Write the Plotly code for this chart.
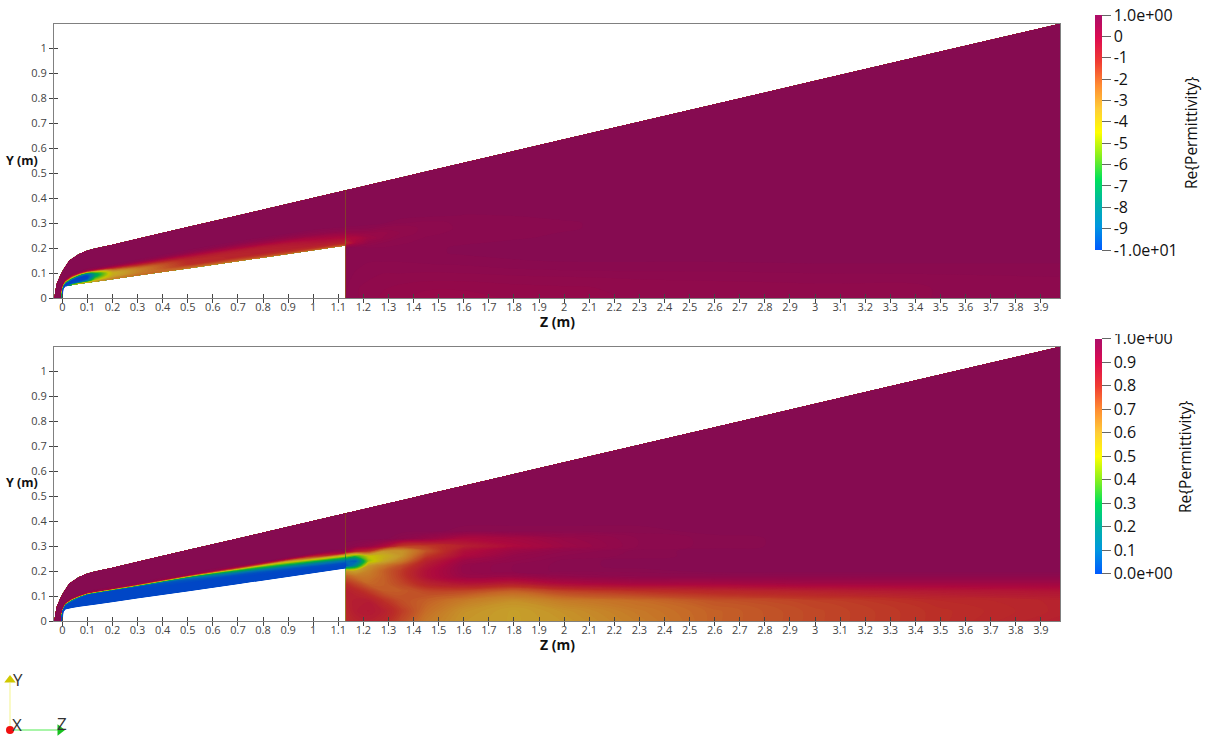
import plotly.graph_objects as go

# ---------- geometry (metres) ----------
body_z = [0.003, 0.003, 0.004, 0.006, 0.013, 0.04, 0.07, 0.10, 0.13, 0.20, 0.30, 0.50, 0.70, 0.90, 1.13, 1.135]
body_y = [0.0, 0.012, 0.025, 0.037, 0.046, 0.052, 0.0566, 0.061, 0.0652, 0.0753, 0.0897, 0.1185, 0.1473, 0.1761, 0.210, 0.2107]
shock_z = [-0.031, -0.029, -0.022, -0.009, 0.005, 0.028, 0.065, 0.10, 0.13, 0.20, 0.30, 0.50, 0.70, 0.90, 1.13, 1.135]
shock_y = [0.0, 0.02, 0.057, 0.088, 0.115, 0.15, 0.175, 0.19, 0.198, 0.2134, 0.2368, 0.2836, 0.3304, 0.3772, 0.431, 0.4322]
fore_frac = [0, .05, .1, .15, .2, .25, .3, .325, .35, .375, .4, .45, .5, .65, 1]

wake_z = [1.13, 1.17, 1.22, 1.28, 1.35, 1.45, 1.6, 1.8, 2.0, 2.3, 2.6, 3.0, 3.5, 3.976]
wake_top = [0.431, 0.4404, 0.4521, 0.4661, 0.4825, 0.5059, 0.541, 0.5878, 0.6346, 0.7048, 0.775, 0.8686, 0.9856, 1.097]
wake_levels = [0, .04, .08, .12, .15, .18, .20, .22, .24, .26, .28, .30, .33, .36, .40]

# ---------- Re{Permittivity}, top panel ----------
fore_top = [
    [-10, -10, -10, -10, -9, -6, -1.5, .3, .7, .9, 1, 1, 1, 1, 1],
    [-10, -10, -10, -10, -9, -6, -1.5, .3, .7, .9, 1, 1, 1, 1, 1],
    [-10, -10, -10, -10, -9, -6, -1.5, .3, .7, .9, 1, 1, 1, 1, 1],
    [-10, -10, -10, -10, -8, -5, -1.5, 0, .5, .8, 1, 1, 1, 1, 1],
    [-10, -10, -10, -10, -8, -5, -2, -1, 0, .5, .85, 1, 1, 1, 1],
    [-5, -9.5, -10, -10, -10, -8, -4, -2.5, -1, 0, .7, 1, 1, 1, 1],
    [-3, -9, -10, -10, -10, -9.5, -7, -4, -2, 0, .6, 1, 1, 1, 1],
    [-3.5, -8, -9.5, -10, -10, -9.5, -7.5, -5, -2, -.3, .6, 1, 1, 1, 1],
    [-3, -5, -6, -7, -7.5, -7, -5, -3, -1.3, .1, .7, 1, 1, 1, 1],
    [-2.6, -3.2, -3.6, -3.8, -3.7, -3, -1.8, -1, -.3, .3, .7, 1, 1, 1, 1],
    [-2.2, -2.6, -2.8, -2.8, -2.5, -1.8, -.8, -.3, .2, .5, .8, .97, 1, 1, 1],
    [-2.4, -1.8, -1.2, -1.1, -1, -.7, -.2, .1, .4, .6, .8, .96, 1, 1, 1],
    [-2.4, -1.5, -.9, -.9, -.8, -.5, .1, .3, .5, .7, .85, .97, 1, 1, 1],
    [-2.2, -1.2, -.8, -.7, -.5, -.1, .4, .55, .7, .85, .93, 1, 1, 1, 1],
    [-2.2, -.9, -.5, -.1, .3, .6, .85, .92, .97, 1, 1, 1, 1, 1, 1],
    [-2.2, -.9, -.5, -.1, .3, .6, .85, .92, .97, 1, 1, 1, 1, 1, 1],
]
wake_top_vals = [
    [.85, .85, .88, .9, .92, .95, .95, -1, -.2, .45, .9, 1, 1, 1, 1, 1],
    [.75, .75, .8, .85, .88, .9, .9, .1, -.1, .5, .9, 1, 1, 1, 1, 1],
    [.7, .7, .75, .8, .85, .88, .85, .6, .3, .5, .85, 1, 1, 1, 1, 1],
    [.6, .65, .7, .78, .85, .88, .85, .75, .55, .5, .7, .95, 1, 1, 1, 1],
    [.55, .6, .7, .78, .85, .9, .88, .82, .75, .65, .65, .85, 1, 1, 1, 1],
    [.5, .55, .68, .78, .88, .92, .92, .88, .85, .8, .78, .8, .97, 1, 1, 1],
    [.5, .55, .68, .8, .9, .95, .95, .93, .9, .88, .86, .86, .93, .99, 1, 1],
    [.55, .6, .7, .85, .93, .97, .97, .95, .93, .92, .9, .9, .94, .99, 1, 1],
    [.6, .62, .72, .87, .95, .98, .98, .97, .95, .94, .93, .93, .95, .99, 1, 1],
    [.65, .66, .75, .88, .95, .98, .99, .98, .97, .96, .96, .96, .97, .99, 1, 1],
    [.68, .68, .76, .88, .95, .98, .99, .99, .98, .98, .98, .98, .98, .99, 1, 1],
    [.7, .7, .78, .9, .96, .98, .99, .99, .99, .99, .99, .99, .99, .99, 1, 1],
    [.74, .74, .8, .9, .96, .98, .99, 1, 1, 1, 1, 1, 1, 1, 1, 1],
    [.78, .78, .83, .9, .96, .98, .99, 1, 1, 1, 1, 1, 1, 1, 1, 1],
]

# ---------- Re{Permittivity}, bottom panel ----------
fore_bot = [
    [0, 0, 0, 0, 0, .02, .5, .9, .97, 1, 1, 1, 1, 1, 1],
    [0, 0, 0, 0, 0, .02, .5, .9, .97, 1, 1, 1, 1, 1, 1],
    [0, 0, 0, 0, 0, .02, .5, .9, .97, 1, 1, 1, 1, 1, 1],
    [0, 0, 0, 0, .01, .1, .55, .85, .95, 1, 1, 1, 1, 1, 1],
    [0, 0, 0, 0, 0, .05, .3, .6, .85, .95, 1, 1, 1, 1, 1],
    [0, 0, 0, 0, 0, .01, .1, .3, .65, .9, .98, 1, 1, 1, 1],
    [0, 0, 0, 0, 0, 0, .01, .05, .3, .75, .97, 1, 1, 1, 1],
    [0, 0, 0, 0, 0, 0, 0, 0, .02, .4, .9, 1, 1, 1, 1],
    [0, 0, 0, 0, 0, 0, 0, 0, .03, .45, .92, 1, 1, 1, 1],
    [0, 0, 0, 0, 0, 0, 0, 0, .05, .55, .95, 1, 1, 1, 1],
    [0, 0, 0, 0, 0, 0, 0, .01, .2, .7, .97, 1, 1, 1, 1],
    [0, 0, 0, 0, 0, .02, .06, .14, .32, .72, .96, 1, 1, 1, 1],
    [0, 0, 0, 0, .02, .1, .3, .45, .72, .88, .98, 1, 1, 1, 1],
    [0, 0, 0, .02, .1, .3, .52, .65, .82, .96, 1, 1, 1, 1, 1],
    [0, 0, .02, .12, .33, .6, .95, .99, 1, 1, 1, 1, 1, 1, 1],
    [0, 0, .02, .12, .33, .6, .95, .99, 1, 1, 1, 1, 1, 1, 1],
]
wake_bot_vals = [
    [.81, .82, .83, .84, .8, .72, .62, .02, .08, .47, .95, .99, 1, 1, 1, 1],
    [.83, .85, .85, .82, .76, .68, .6, .2, .04, .35, .85, .98, 1, 1, 1, 1],
    [.84, .86, .85, .78, .71, .68, .66, .62, .45, .5, .8, .96, 1, 1, 1, 1],
    [.82, .84, .8, .73, .72, .72, .72, .68, .58, .56, .62, .9, 1, 1, 1, 1],
    [.76, .78, .75, .73, .76, .78, .78, .75, .67, .62, .62, .78, .98, 1, 1, 1],
    [.68, .7, .72, .76, .83, .88, .88, .86, .83, .78, .74, .78, .95, 1, 1, 1],
    [.62, .63, .67, .76, .87, .95, .96, .96, .94, .9, .88, .84, .9, .99, 1, 1],
    [.6, .6, .63, .72, .85, .95, .98, .98, .97, .96, .94, .9, .92, .99, 1, 1],
    [.62, .63, .67, .77, .9, .97, .99, .99, .99, .98, .97, .94, .95, .99, 1, 1],
    [.67, .68, .7, .8, .92, .98, .99, 1, 1, .99, .99, .98, .98, .99, 1, 1],
    [.72, .72, .74, .82, .92, .98, 1, 1, 1, 1, 1, .99, .99, 1, 1, 1],
    [.76, .76, .77, .84, .93, .98, 1, 1, 1, 1, 1, 1, 1, 1, 1, 1],
    [.8, .8, .81, .86, .93, .98, 1, 1, 1, 1, 1, 1, 1, 1, 1, 1],
    [.84, .83, .83, .87, .93, .98, 1, 1, 1, 1, 1, 1, 1, 1, 1, 1],
]

# ---------- labels and ticks ----------
z_ticks = [i / 10 for i in range(40)]
z_labels = ["0", "0.1", "0.2", "0.3", "0.4", "0.5", "0.6", "0.7", "0.8", "0.9",
            "1", "1.1", "1.2", "1.3", "1.4", "1.5", "1.6", "1.7", "1.8", "1.9",
            "2", "2.1", "2.2", "2.3", "2.4", "2.5", "2.6", "2.7", "2.8", "2.9",
            "3", "3.1", "3.2", "3.3", "3.4", "3.5", "3.6", "3.7", "3.8", "3.9"]
y_ticks = [i / 10 for i in range(11)]
y_labels = ["0", "0.1", "0.2", "0.3", "0.4", "0.5", "0.6", "0.7", "0.8", "0.9", "1"]
cb1_vals = [1, 0, -1, -2, -3, -4, -5, -6, -7, -8, -9, -10]
cb1_text = ["1.0e+00", "0", "-1", "-2", "-3", "-4", "-5", "-6", "-7", "-8", "-9", "-1.0e+01"]
cb2_vals = [1, .9, .8, .7, .6, .5, .4, .3, .2, .1, 0]
cb2_text = ["1.0e+00", "0.9", "0.8", "0.7", "0.6", "0.5", "0.4", "0.3", "0.2", "0.1", "0.0e+00"]

stops = [0, .1, .2, .3, .4, .5, .6, .7, .8, .9, .96, 1]
bar_rgb = [(0, 90, 255), (0, 150, 225), (0, 180, 165), (0, 225, 90), (135, 240, 30), (255, 255, 0),
           (255, 205, 55), (255, 140, 50), (240, 60, 50), (222, 12, 80), (190, 12, 95), (172, 15, 105)]
SHADE = 0.78

bright = [[s, "rgb(%d,%d,%d)" % c] for s, c in zip(stops, bar_rgb)]
shaded = [[s, "rgb(%d,%d,%d)" % tuple(int(v * SHADE) for v in c)] for s, c in zip(stops, bar_rgb)]

W, H = 1209, 738
PX0, PX1 = 54, 1060
P1T, P1B = 24, 298
P2T, P2B = 347, 621
XR = [-0.033, 3.976]
YR = [0, 1.096]
CLEAR = "rgba(0,0,0,0)"


def px(x):
    return x / W


def py(y):
    return 1 - y / H


fig = go.Figure()


def add_field(fore_vals, wake_vals, xa, ya, lo, hi, step, tag):
    xf = [[bz + f * (sz - bz) for bz, sz in zip(body_z, shock_z)] for f in fore_frac]
    yf = [[by + f * (sy - by) for by, sy in zip(body_y, shock_y)] for f in fore_frac]
    yw = [[lv for _ in wake_z] for lv in wake_levels] + [list(wake_top)]
    xw = [list(wake_z) for _ in yw]
    fz = [[row[j] for row in fore_vals] for j in range(len(fore_frac))]
    wz = [[row[j] for row in wake_vals] for j in range(len(yw))]
    for name, x, y, zv in ((tag + "f", xf, yf, fz), (tag + "w", xw, yw, wz)):
        a = list(range(len(x[0])))
        b = list(range(len(x)))
        noax = dict(showgrid=False, showticklabels="none", startline=False, endline=False,
                    smoothing=0, showline=False, minorgridcount=0, gridcolor=CLEAR, linecolor=CLEAR,
                    startlinecolor=CLEAR, endlinecolor=CLEAR, minorgridcolor=CLEAR)
        fig.add_trace(go.Carpet(carpet=name, a=a, b=b, x=x, y=y, xaxis=xa, yaxis=ya,
                                color=CLEAR, aaxis=noax, baxis=noax))
        fig.add_trace(go.Contourcarpet(carpet=name, a=a, b=b, z=zv, xaxis=xa, yaxis=ya,
                                       autocontour=False, showscale=False, zmin=lo, zmax=hi,
                                       colorscale=shaded, line=dict(width=0, color=CLEAR),
                                       contours=dict(start=lo - 0.63 * step, end=hi + step, size=step,
                                                     coloring="fill", showlines=False)))


add_field(fore_top, wake_top_vals, "x", "y", -10, 1, 0.1, "t")
add_field(fore_bot, wake_bot_vals, "x2", "y2", 0, 1, 0.008, "b")


def bar(vals, text, lo, hi, top):
    cb = dict(x=px(1095), xanchor="left", xpad=0, y=py(top), yanchor="top", ypad=0,
              len=235, lenmode="pixels", thickness=7, thicknessmode="pixels",
              outlinewidth=0, tickmode="array", tickvals=vals, ticktext=text,
              ticks="outside", ticklen=9, tickcolor="#666666", tickwidth=1,
              tickfont=dict(family="Open Sans", size=16, color="#111111"))
    fig.add_trace(go.Scatter(x=[-100, -100], y=[-100, -100], mode="markers", xaxis="x5", yaxis="y5",
                             marker=dict(color=[lo, hi], cmin=lo, cmax=hi, colorscale=bright,
                                         showscale=True, colorbar=cb),
                             showlegend=False, hoverinfo="skip"))


bar(cb1_vals, cb1_text, -10, 1, 15)
bar(cb2_vals, cb2_text, 0, 1, 338.5)

# twin axes: the second half of the crossing tick marks
for xa_name, ya_name in (("x3", "y"), ("x4", "y2"), ("x", "y3"), ("x2", "y4")):
    fig.add_trace(go.Scatter(x=[None], y=[None], mode="markers", xaxis=xa_name, yaxis=ya_name,
                             showlegend=False, hoverinfo="skip"))

widget_x = [10, 10]
widget_y = [730, 683]
widget_zx = [10, 58]
widget_zy = [730, 730]
fig.add_trace(go.Scatter(x=widget_x, y=widget_y, mode="lines", xaxis="x5", yaxis="y5",
                         line=dict(color="#f6f6a0", width=1.2), hoverinfo="skip", showlegend=False))
fig.add_trace(go.Scatter(x=widget_zx, y=widget_zy, mode="lines", xaxis="x5", yaxis="y5",
                         line=dict(color="#a8f5a8", width=2), hoverinfo="skip", showlegend=False))
fig.add_trace(go.Scatter(x=[10], y=[680], mode="markers", xaxis="x5", yaxis="y5",
                         marker=dict(symbol="triangle-up", size=10, color="#d0c800"),
                         hoverinfo="skip", showlegend=False))
fig.add_trace(go.Scatter(x=[60], y=[730], mode="markers", xaxis="x5", yaxis="y5",
                         marker=dict(symbol="triangle-right", size=10, color="#18c020"),
                         hoverinfo="skip", showlegend=False))
fig.add_trace(go.Scatter(x=[10], y=[730], mode="markers", xaxis="x5", yaxis="y5",
                         marker=dict(symbol="circle", size=8, color="#f01010"),
                         hoverinfo="skip", showlegend=False))

TICKFONT = dict(family="Open Sans", size=11, color="#444444")
AXLINE = "#808080"


def xaxis(anchor):
    return dict(domain=[px(PX0), px(PX1)], range=XR, anchor=anchor, tickmode="array",
                tickvals=z_ticks, ticktext=z_labels, ticks="outside", ticklen=4, tickwidth=1,
                ticklabelstandoff=-5,
                tickcolor="#444444", tickfont=TICKFONT, showgrid=False, zeroline=False,
                showline=True, linecolor=AXLINE, linewidth=1, mirror=True, layer="above traces")


def yaxis(anchor, top, bottom):
    return dict(domain=[py(bottom), py(top)], range=YR, anchor=anchor, tickmode="array",
                tickvals=y_ticks, ticktext=y_labels, ticks="outside", ticklen=4, tickwidth=1,
                tickcolor="#444444", tickfont=TICKFONT, showgrid=False, zeroline=False,
                showline=True, linecolor=AXLINE, linewidth=1, mirror=True, layer="above traces")


def xtwin(base, anchor):
    return dict(domain=[px(PX0), px(PX1)], range=XR, overlaying=base, anchor=anchor, side="bottom",
                tickmode="array", tickvals=z_ticks, ticks="inside", ticklen=4, tickwidth=1,
                tickcolor="#444444", showticklabels=False, showgrid=False, zeroline=False,
                showline=False, layer="above traces")


def ytwin(base, anchor, top, bottom):
    return dict(domain=[py(bottom), py(top)], range=YR, overlaying=base, anchor=anchor, side="left",
                tickmode="array", tickvals=y_ticks, ticks="inside", ticklen=4, tickwidth=1,
                tickcolor="#444444", showticklabels=False, showgrid=False, zeroline=False,
                showline=False, layer="above traces")


def ann(text, x, y, size, bold=False, angle=0, color="#111111"):
    return dict(text="<b>%s</b>" % text if bold else text, x=px(x), y=py(y), xref="paper", yref="paper",
                showarrow=False, textangle=angle, font=dict(family="Open Sans", size=size, color=color),
                xanchor="center", yanchor="middle")


annotations = [
    ann("Z (m)", 557, 321.5, 14, True),
    ann("Z (m)", 557, 644.5, 14, True),
    ann("Y (m)", 22, 160, 12.5, True),
    ann("Y (m)", 22, 483, 12.5, True),
    ann("Re{Permittivity}", 1191, 133, 15.5, False, -90),
    ann("Re{Permittivity}", 1185, 457, 15.5, False, -90),
    ann("Y", 18, 679, 17, False, 0, "#333333"),
    ann("X", 17, 724, 17, False, 0, "#333333"),
    ann("Z", 62, 723, 17, False, 0, "#333333"),
    # the top label of the lower colour bar is cropped in the reference
    dict(text=" ", x=px(1148), y=py(329.5), xref="paper", yref="paper", showarrow=False, width=80, height=9,
         bgcolor="white", borderpad=0, borderwidth=0, xanchor="center", yanchor="middle"),
]

fig.update_layout(
    width=W, height=H, margin=dict(l=0, r=0, t=0, b=0, autoexpand=False), paper_bgcolor="white",
    plot_bgcolor="rgba(0,0,0,0)",
    showlegend=False, annotations=annotations,
    xaxis=xaxis("y"), yaxis=yaxis("x", P1T, P1B),
    xaxis2=xaxis("y2"), yaxis2=yaxis("x2", P2T, P2B),
    xaxis3=xtwin("x", "y"), xaxis4=xtwin("x2", "y2"),
    yaxis3=ytwin("y", "x", P1T, P1B), yaxis4=ytwin("y2", "x2", P2T, P2B),
    xaxis5=dict(domain=[0, 1], range=[0, W], visible=False, anchor="y5", fixedrange=True),
    yaxis5=dict(domain=[0, 1], range=[H, 0], visible=False, anchor="x5", fixedrange=True),
)

fig.write_html("out.html", config=dict(displayModeBar=False), post_script="document.body.style.margin='0';")
